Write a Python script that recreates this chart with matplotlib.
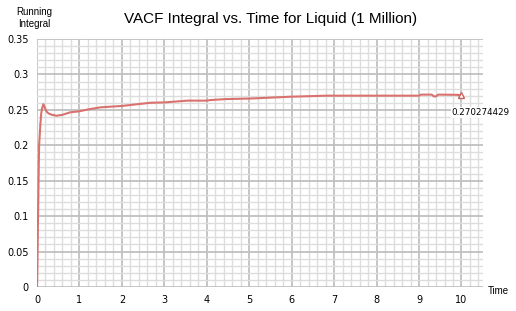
import matplotlib
matplotlib.use("Agg")
import matplotlib.pyplot as plt
from matplotlib.ticker import MultipleLocator

time = [0, 0.005, 0.01, 0.02, 0.03, 0.04, 0.05, 0.06, 0.08, 0.10, 0.12, 0.15, 0.18,
        0.22, 0.27, 0.35, 0.46, 0.6, 0.78, 1.0, 1.21, 1.5, 2.0, 2.67, 3.0, 3.54,
        4.0, 4.08, 4.45, 5.03, 6.0, 6.83, 8.0, 9.0, 9.05, 9.3, 9.35, 9.4, 9.45,
        9.9, 10.0]
integral = [0, 0.01, 0.03, 0.08, 0.12, 0.165, 0.2, 0.21, 0.23, 0.245, 0.252, 0.258,
            0.254, 0.248, 0.245, 0.243, 0.2417, 0.243, 0.2465, 0.248, 0.2507, 0.2536,
            0.2555, 0.26, 0.2605, 0.263, 0.263, 0.2638, 0.2652, 0.266, 0.2686, 0.27,
            0.27, 0.27, 0.2715, 0.2715, 0.269, 0.269, 0.2715, 0.2712, 0.270274429]
xticks = list(range(0, 11))
yticks = [0, 0.05, 0.1, 0.15, 0.2, 0.25, 0.3, 0.35]
ytick_labels = ["0", "0.05", "0.1", "0.15", "0.2", "0.25", "0.3", "0.35"]
last_label = "0.270274429"

fig = plt.figure(figsize=(5.16, 3.11), dpi=100)
ax = fig.add_axes([0.0717, 0.0772, 0.8638, 0.7974])
ax.set_xlim(0, 10.5)
ax.set_ylim(0, 0.35)
ax.set_xticks(xticks)
ax.set_yticks(yticks)
ax.set_yticklabels(ytick_labels)
ax.xaxis.set_minor_locator(MultipleLocator(0.2))
ax.yaxis.set_minor_locator(MultipleLocator(0.01))
ax.grid(which="minor", color="#dddddd", linewidth=1.0)
ax.grid(which="major", color="#c0c0c0", linewidth=1.3)
ax.set_axisbelow(True)
for s in ax.spines.values():
    s.set_visible(False)
ax.tick_params(which="both", length=0, labelsize=7, pad=6)

ax.plot(time, integral, color="#d9726f", linewidth=1.5, solid_joinstyle="round")
ax.plot([time[-1]], [integral[-1]], marker="^", markersize=4.5, markerfacecolor="white",
        markeredgecolor="#c9605d", markeredgewidth=1.0, linestyle="none")
ax.annotate(last_label, xy=(time[-1], integral[-1]), xytext=(-7, -12),
            textcoords="offset points", fontsize=6.3, ha="left", va="center",
            bbox=dict(boxstyle="square,pad=0.1", facecolor="white", edgecolor="none"))

fig.text(0.525, 0.94, "VACF Integral vs. Time for Liquid (1 Million)",
         fontsize=11, family="Liberation Sans", ha="center", va="center")
fig.text(0.066, 0.961, "Running", fontsize=7, family="Liberation Sans", ha="center", va="center")
fig.text(0.066, 0.923, "Integral", fontsize=7, family="Liberation Sans", ha="center", va="center")
fig.text(0.946, 0.064, "Time", fontsize=7, family="Liberation Sans", ha="left", va="center")

fig.savefig("out.png", dpi=100)
